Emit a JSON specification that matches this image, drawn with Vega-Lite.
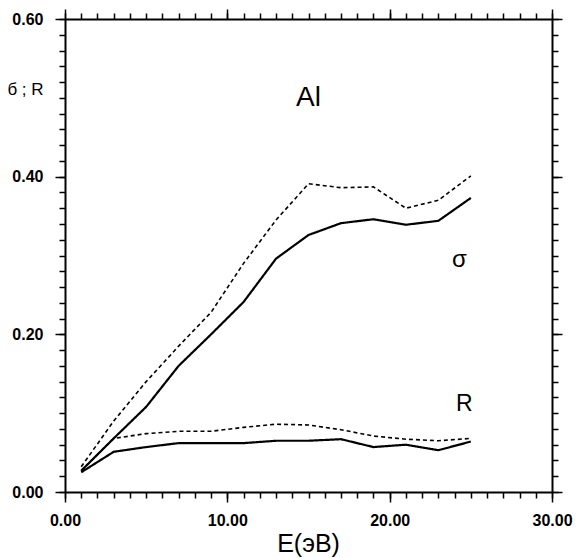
{
  "$schema": "https://vega.github.io/schema/vega-lite/v6.json",
  "width": 487,
  "height": 473,
  "autosize": "none",
  "padding": {"left": 65, "top": 19, "right": 24, "bottom": 66},
  "background": "white",
  "config": {
    "view": {"stroke": null},
    "font": "Liberation Sans",
    "axis": {
      "grid": false,
      "domainColor": "black",
      "domainWidth": 2,
      "tickColor": "black",
      "tickWidth": 1.5,
      "labelColor": "black",
      "labelFont": "Liberation Sans",
      "labelFontSize": 16,
      "labelFontWeight": "bold",
      "titleColor": "black",
      "titleFont": "Liberation Sans",
      "titleFontWeight": "normal"
    }
  },
  "datasets": {
    "curves": [
      {"E": 1, "v": 0.027, "series": "sigma_solid", "style": "solid"},
      {"E": 3, "v": 0.068, "series": "sigma_solid", "style": "solid"},
      {"E": 5, "v": 0.108, "series": "sigma_solid", "style": "solid"},
      {"E": 7, "v": 0.160, "series": "sigma_solid", "style": "solid"},
      {"E": 9, "v": 0.200, "series": "sigma_solid", "style": "solid"},
      {"E": 11, "v": 0.241, "series": "sigma_solid", "style": "solid"},
      {"E": 13, "v": 0.296, "series": "sigma_solid", "style": "solid"},
      {"E": 15, "v": 0.326, "series": "sigma_solid", "style": "solid"},
      {"E": 17, "v": 0.341, "series": "sigma_solid", "style": "solid"},
      {"E": 19, "v": 0.346, "series": "sigma_solid", "style": "solid"},
      {"E": 21, "v": 0.339, "series": "sigma_solid", "style": "solid"},
      {"E": 23, "v": 0.344, "series": "sigma_solid", "style": "solid"},
      {"E": 25, "v": 0.373, "series": "sigma_solid", "style": "solid"},
      {"E": 1, "v": 0.032, "series": "sigma_dashed", "style": "dashed"},
      {"E": 3, "v": 0.090, "series": "sigma_dashed", "style": "dashed"},
      {"E": 5, "v": 0.140, "series": "sigma_dashed", "style": "dashed"},
      {"E": 7, "v": 0.185, "series": "sigma_dashed", "style": "dashed"},
      {"E": 9, "v": 0.228, "series": "sigma_dashed", "style": "dashed"},
      {"E": 11, "v": 0.290, "series": "sigma_dashed", "style": "dashed"},
      {"E": 13, "v": 0.345, "series": "sigma_dashed", "style": "dashed"},
      {"E": 15, "v": 0.391, "series": "sigma_dashed", "style": "dashed"},
      {"E": 17, "v": 0.386, "series": "sigma_dashed", "style": "dashed"},
      {"E": 19, "v": 0.387, "series": "sigma_dashed", "style": "dashed"},
      {"E": 21, "v": 0.360, "series": "sigma_dashed", "style": "dashed"},
      {"E": 23, "v": 0.370, "series": "sigma_dashed", "style": "dashed"},
      {"E": 25, "v": 0.401, "series": "sigma_dashed", "style": "dashed"},
      {"E": 1, "v": 0.025, "series": "R_solid", "style": "solid"},
      {"E": 3, "v": 0.051, "series": "R_solid", "style": "solid"},
      {"E": 5, "v": 0.057, "series": "R_solid", "style": "solid"},
      {"E": 7, "v": 0.062, "series": "R_solid", "style": "solid"},
      {"E": 9, "v": 0.062, "series": "R_solid", "style": "solid"},
      {"E": 11, "v": 0.062, "series": "R_solid", "style": "solid"},
      {"E": 13, "v": 0.065, "series": "R_solid", "style": "solid"},
      {"E": 15, "v": 0.065, "series": "R_solid", "style": "solid"},
      {"E": 17, "v": 0.067, "series": "R_solid", "style": "solid"},
      {"E": 19, "v": 0.057, "series": "R_solid", "style": "solid"},
      {"E": 21, "v": 0.060, "series": "R_solid", "style": "solid"},
      {"E": 23, "v": 0.053, "series": "R_solid", "style": "solid"},
      {"E": 25, "v": 0.064, "series": "R_solid", "style": "solid"},
      {"E": 1, "v": 0.027, "series": "R_dashed", "style": "dashed"},
      {"E": 3, "v": 0.068, "series": "R_dashed", "style": "dashed"},
      {"E": 5, "v": 0.074, "series": "R_dashed", "style": "dashed"},
      {"E": 7, "v": 0.077, "series": "R_dashed", "style": "dashed"},
      {"E": 9, "v": 0.077, "series": "R_dashed", "style": "dashed"},
      {"E": 11, "v": 0.082, "series": "R_dashed", "style": "dashed"},
      {"E": 13, "v": 0.086, "series": "R_dashed", "style": "dashed"},
      {"E": 15, "v": 0.085, "series": "R_dashed", "style": "dashed"},
      {"E": 17, "v": 0.079, "series": "R_dashed", "style": "dashed"},
      {"E": 19, "v": 0.071, "series": "R_dashed", "style": "dashed"},
      {"E": 21, "v": 0.067, "series": "R_dashed", "style": "dashed"},
      {"E": 23, "v": 0.065, "series": "R_dashed", "style": "dashed"},
      {"E": 25, "v": 0.068, "series": "R_dashed", "style": "dashed"}
    ]
  },
  "resolve": {"axis": {"x": "independent", "y": "independent"}},
  "layer": [
    {
      "data": {"name": "curves"},
      "mark": {"type": "line", "color": "black"},
      "encoding": {
        "x": {
          "field": "E", "type": "quantitative",
          "scale": {"domain": [0, 30], "nice": false, "zero": false},
          "axis": {
            "orient": "bottom", "values": [0, 10, 20, 30], "format": ".2f",
            "tickSize": 10, "labelPadding": 10, "labelFlush": false,
            "title": "E(эВ)", "titleFontSize": 25, "titleX": 243, "titleY": 59,
            "titleBaseline": "alphabetic", "titleAlign": "center", "titleAnchor": null
          }
        },
        "y": {
          "field": "v", "type": "quantitative",
          "scale": {"domain": [0, 0.6], "nice": false, "zero": false},
          "axis": {
            "orient": "left", "values": [0, 0.2, 0.4, 0.6], "format": ".2f",
            "tickSize": 10, "labelPadding": 12, "labelFlush": false,
            "title": "б ; R", "titleFontSize": 17, "titleAngle": 0,
            "titleX": -40, "titleY": 70, "titleAlign": "center", "titleBaseline": "middle", "titleAnchor": null
          }
        },
        "detail": {"field": "series"},
        "strokeDash": {
          "field": "style", "type": "nominal",
          "scale": {"domain": ["solid", "dashed"], "range": [[1, 0], [4, 3]]},
          "legend": null
        },
        "strokeWidth": {
          "field": "style", "type": "nominal",
          "scale": {"domain": ["solid", "dashed"], "range": [2.2, 1.6]},
          "legend": null
        }
      }
    },
    {
      "data": {"name": "curves"},
      "mark": {"type": "point", "opacity": 0},
      "encoding": {
        "x": {
          "field": "E", "type": "quantitative",
          "axis": {
            "orient": "bottom", "values": [0,1,2,3,4,5,6,7,8,9,10,11,12,13,14,15,16,17,18,19,20,21,22,23,24,25,26,27,28,29,30],
            "tickSize": 6, "labels": false, "domain": false, "title": null
          }
        },
        "y": {
          "field": "v", "type": "quantitative",
          "axis": {
            "orient": "left", "values": [0,0.02,0.04,0.06,0.08,0.1,0.12,0.14,0.16,0.18,0.2,0.22,0.24,0.26,0.28,0.3,0.32,0.34,0.36,0.38,0.4,0.42,0.44,0.46,0.48,0.5,0.52,0.54,0.56,0.58,0.6],
            "tickSize": 6, "labels": false, "domain": false, "title": null
          }
        }
      }
    },
    {
      "data": {"name": "curves"},
      "mark": {"type": "point", "opacity": 0},
      "encoding": {
        "x": {
          "field": "E", "type": "quantitative",
          "axis": {"orient": "top", "values": [0, 10, 20, 30], "tickSize": 10, "labels": false, "title": null}
        },
        "y": {
          "field": "v", "type": "quantitative",
          "axis": {"orient": "right", "values": [0, 0.2, 0.4, 0.6], "tickSize": 10, "labels": false, "title": null}
        }
      }
    },
    {
      "data": {"name": "curves"},
      "mark": {"type": "point", "opacity": 0},
      "encoding": {
        "x": {
          "field": "E", "type": "quantitative",
          "axis": {
            "orient": "top", "values": [0,1,2,3,4,5,6,7,8,9,10,11,12,13,14,15,16,17,18,19,20,21,22,23,24,25,26,27,28,29,30],
            "tickSize": 6, "labels": false, "domain": false, "title": null
          }
        },
        "y": {
          "field": "v", "type": "quantitative",
          "axis": {
            "orient": "right", "values": [0,0.02,0.04,0.06,0.08,0.1,0.12,0.14,0.16,0.18,0.2,0.22,0.24,0.26,0.28,0.3,0.32,0.34,0.36,0.38,0.4,0.42,0.44,0.46,0.48,0.5,0.52,0.54,0.56,0.58,0.6],
            "tickSize": 6, "labels": false, "domain": false, "title": null
          }
        }
      }
    },
    {
      "data": {"values": [{"E": 15, "v": 0.5, "label": "Al"}]},
      "mark": {"type": "text", "fontSize": 28, "font": "Liberation Sans", "color": "black", "baseline": "middle", "align": "center"},
      "encoding": {
        "x": {"field": "E", "type": "quantitative", "axis": null},
        "y": {"field": "v", "type": "quantitative", "axis": null},
        "text": {"field": "label"}
      }
    },
    {
      "data": {"values": [{"E": 24.3, "v": 0.291, "label": "σ"}]},
      "mark": {"type": "text", "fontSize": 24, "font": "Liberation Sans", "color": "black", "baseline": "middle", "align": "center", "dy": -3},
      "encoding": {
        "x": {"field": "E", "type": "quantitative", "axis": null},
        "y": {"field": "v", "type": "quantitative", "axis": null},
        "text": {"field": "label"}
      }
    },
    {
      "data": {"values": [{"E": 24.6, "v": 0.111, "label": "R"}]},
      "mark": {"type": "text", "fontSize": 23, "font": "Liberation Sans", "color": "black", "baseline": "middle", "align": "center"},
      "encoding": {
        "x": {"field": "E", "type": "quantitative", "axis": null},
        "y": {"field": "v", "type": "quantitative", "axis": null},
        "text": {"field": "label"}
      }
    }
  ]
}
